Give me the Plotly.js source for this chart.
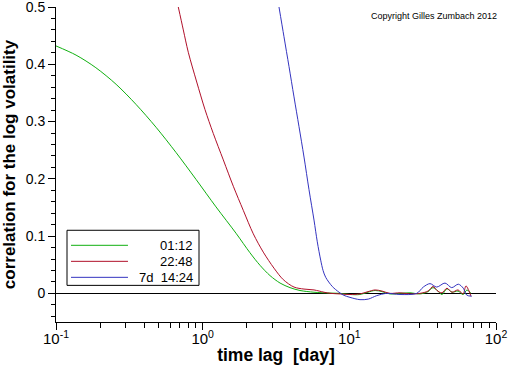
<!DOCTYPE html>
<html>
<head>
<meta charset="utf-8">
<script src="https://cdn.plot.ly/plotly-3.0.1.min.js"></script>
<style>html,body{margin:0;padding:0;background:#fff;}#chart{width:512px;height:366px;}</style>
</head>
<body>
<div id="chart"></div>
<script>
// series names
var seriesNames = ['01:12', '22:48', '7d\u00a0\u00a014:24'];
var seriesColors = ['#10b010', '#b0102a', '#3434c0'];

// green: 01:12
var greenX = [0.1, 0.137, 0.187, 0.257, 0.351, 0.481, 0.658, 0.901, 1.233, 1.688, 2.10, 2.46, 2.88, 3.37, 3.94, 4.61, 5.74, 7.38, 8.64, 10.1, 11.8, 13.4, 15.0, 16.7, 18.9, 22.2, 25.9, 30.3, 34.4, 37.2, 40.2, 42.8, 46.3, 50.1, 55.1, 59.6, 63.4, 67.5];
var greenY = [0.432, 0.416, 0.394, 0.365, 0.330, 0.290, 0.246, 0.199, 0.151, 0.105, 0.071, 0.049, 0.031, 0.018, 0.010, 0.005, 0.002, 0.0005, 0.000, -0.002, -0.002, 0.002, 0.005, 0.003, -0.001, 0.000, 0.001, -0.001, 0.003, 0.010, 0.004, -0.002, 0.008, 0.002, 0.004, -0.002, 0.006, 0.000];

// red: 22:48
var redX = [0.682, 0.738, 0.798, 0.911, 1.037, 1.182, 1.383, 1.618, 1.892, 2.214, 2.59, 3.064, 3.544, 4.195, 4.909, 5.742, 6.72, 7.50, 8.64, 10.1, 11.8, 13.4, 15.0, 16.7, 18.9, 22.2, 25.9, 30.3, 34.4, 37.2, 39.6, 42.8, 46.3, 50.1, 55.1, 59.6, 62.4, 65.5, 67.5];
var redY = [0.5, 0.46, 0.421, 0.369, 0.321, 0.279, 0.233, 0.187, 0.145, 0.104, 0.072, 0.044, 0.024, 0.011, 0.0075, 0.0060, 0.002, 0.000, -0.001, -0.002, -0.001, 0.003, 0.006, 0.004, 0.000, 0.001, -0.001, 0.000, 0.004, 0.012, 0.005, 0.001, 0.009, 0.002, 0.006, -0.001, 0.013, 0.004, -0.005];

// blue: 7d 14:24
var blueX = [3.314, 3.585, 3.878, 4.195, 4.538, 4.909, 5.309, 5.742, 6.047, 6.378, 6.62, 6.901, 7.653, 8.502, 9.095, 10.10, 11.82, 13.47, 15.37, 17.98, 22.16, 28.80, 31.94, 35.48, 39.42, 44.91, 49.89, 55.34, 59.84, 63.13, 68.30];
var blueY = [0.5, 0.448, 0.396, 0.343, 0.291, 0.238, 0.181, 0.128, 0.090, 0.058, 0.040, 0.028, 0.012, 0.002, -0.003, -0.007, -0.011, -0.010, -0.004, 0.000, -0.002, 0.000, 0.011, 0.017, 0.011, 0.018, 0.010, 0.016, 0.009, -0.003, -0.005];

// axis ticks
var xTickVals = [0.1, 1, 10, 100];
var xTickText = ['10<sup>-1</sup>', '10<sup>0</sup>', '10<sup>1</sup>', '10<sup>2</sup>'];
var xMinorVals = [0.2,0.3,0.4,0.5,0.6,0.7,0.8,0.9,2,3,4,5,6,7,8,9,20,30,40,50,60,70,80,90];
var yTickVals = [0, 0.1, 0.2, 0.3, 0.4, 0.5];
var yTickText = ['0', '0.1', '0.2', '0.3', '0.4', '0.5'];
var yMinorVals = [-0.04,-0.02,0.02,0.04,0.06,0.08,0.12,0.14,0.16,0.18,0.22,0.24,0.26,0.28,0.32,0.34,0.36,0.38,0.42,0.44,0.46,0.48];

var xs = [greenX, redX, blueX], ys = [greenY, redY, blueY];
var traces = xs.map(function (x, i) {
  return {x: x, y: ys[i], type: 'scatter', mode: 'lines', name: seriesNames[i],
    line: {color: seriesColors[i], width: 1, shape: 'spline', smoothing: 0.9}};
});

// hand-placed legend box (paper coordinates)
var legBox = {x0: 0.025, x1: 0.325, y0: 0.1163, y1: 0.2912};
var legLineX = [0.0341, 0.1636];
var legRowY = [0.2435, 0.1926, 0.1418];
var legTextX = 0.3159;

var shapes = [{type: 'rect', xref: 'paper', yref: 'paper', x0: legBox.x0, x1: legBox.x1, y0: legBox.y0, y1: legBox.y1,
  line: {color: '#000', width: 1}, fillcolor: 'rgba(0,0,0,0)'}];
var annotations = [{text: 'Copyright Gilles Zumbach 2012', xref: 'paper', yref: 'paper',
    x: (369 - 56) / 440, y: (321.6 - 16) / 314.6, xanchor: 'left', yanchor: 'middle',
    showarrow: false, font: {size: 9, color: '#000'}}];
seriesNames.forEach(function (n, i) {
  shapes.push({type: 'line', xref: 'paper', yref: 'paper', x0: legLineX[0], x1: legLineX[1], y0: legRowY[i], y1: legRowY[i],
    line: {color: seriesColors[i], width: 1}});
  annotations.push({text: n, xref: 'paper', yref: 'paper', x: legTextX, y: legRowY[i], xanchor: 'right', yanchor: 'middle',
    showarrow: false, font: {size: 13, color: '#000'}});
});

var layout = {
  width: 512, height: 366,
  margin: {l: 56, r: 16, t: 7, b: 44, pad: 0},
  paper_bgcolor: '#fff', plot_bgcolor: '#fff',
  font: {family: 'Arial, "Liberation Sans", sans-serif', color: '#000'},
  showlegend: false,
  xaxis: {type: 'log', range: [-1, 2], showline: true, linecolor: '#000', linewidth: 1,
    showgrid: false, zeroline: false, tickmode: 'array', tickvals: xTickVals, ticktext: xTickText,
    ticks: 'outside', ticklen: 7, tickcolor: '#000', tickwidth: 1, tickfont: {size: 15}, ticklabelstandoff: -4,
    ticklabeloverflow: 'allow',
    minor: {tickmode: 'array', tickvals: xMinorVals, ticks: 'outside', ticklen: 5, tickcolor: '#000', tickwidth: 1, showgrid: false},
    title: {text: '<b>time lag\u00a0\u00a0[day]</b>', font: {size: 17.5}, standoff: 2}},
  yaxis: {range: [-0.05, 0.5], showline: true, linecolor: '#000', linewidth: 1,
    showgrid: false, zeroline: true, zerolinecolor: '#000', zerolinewidth: 1.3,
    tickmode: 'array', tickvals: yTickVals, ticktext: yTickText, ticklabeloverflow: 'allow',
    ticks: 'outside', ticklen: 7, tickcolor: '#000', tickwidth: 1, tickfont: {size: 14},
    minor: {tickmode: 'array', tickvals: yMinorVals, ticks: 'outside', ticklen: 4, tickcolor: '#000', tickwidth: 1, showgrid: false},
    title: {text: '<b>correlation for the log volatility</b>', font: {size: 17}, standoff: 5}},
  shapes: shapes,
  annotations: annotations
};

Plotly.newPlot('chart', traces, layout, {displayModeBar: false, staticPlot: true});
</script>
</body>
</html>
